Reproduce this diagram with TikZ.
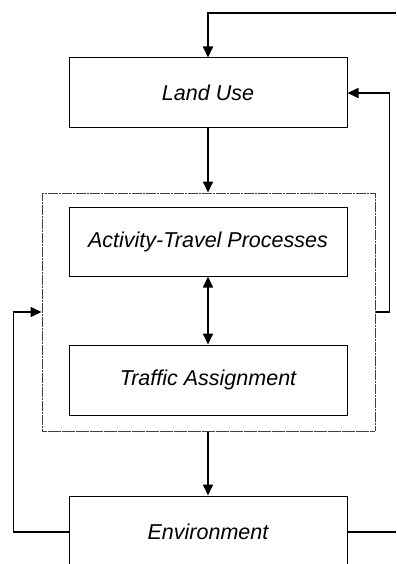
\documentclass[tikz,border=0pt]{standalone}
\usepackage{fontspec}
\setmainfont{Liberation Sans}
\usetikzlibrary{arrows.meta}
\begin{document}
\begin{tikzpicture}[x=1pt,y=-1pt,
  box/.style={draw=black, line width=1pt, minimum width=278pt, minimum height=70pt,
    inner sep=0pt, font=\fontsize{21.5}{24}\selectfont\itshape},
  outerbox/.style={draw=black!75, line width=1pt, dash pattern=on 2.5pt off 0.3pt,
    minimum width=333pt, minimum height=238pt, inner sep=0pt},
  conn/.style={line width=1.7pt},
  arr/.style={conn, -{Triangle[length=11pt,width=10pt]}},
  darr/.style={conn, {Triangle[length=11pt,width=10pt]}-{Triangle[length=11pt,width=10pt]}}]
\useasboundingbox (0,0) rectangle (396,564);
\fill[white] (0,0) rectangle (396,564);
\node[outerbox] (outer) at (208.5,312) {};
\node[box] (landuse) at (208,93) {Land Use};
\node[box, minimum height=69pt] (atp) at (208,241.5) {Activity-Travel Processes};
\node[box] (ta) at (208,380) {Traffic Assignment};
\node[box, minimum height=72pt] (env) at (208,532) {Environment};
\coordinate (topin) at (396,13);
\coordinate (envout) at (396,532);
\draw[arr] (topin) -| (landuse.north);
\draw[arr] (landuse.south) -- (landuse.south |- outer.north);
\draw[darr] (atp.south) -- (ta.north);
\draw[arr] (outer.south -| ta.south) -- (env.north);
\draw[arr] (outer.east) -- ++(14,0) |- (landuse.east);
\draw[arr] (env.west) -- ++(-55,0) |- (outer.west);
\draw[conn] (env.east) -- (envout);
\end{tikzpicture}
\end{document}
